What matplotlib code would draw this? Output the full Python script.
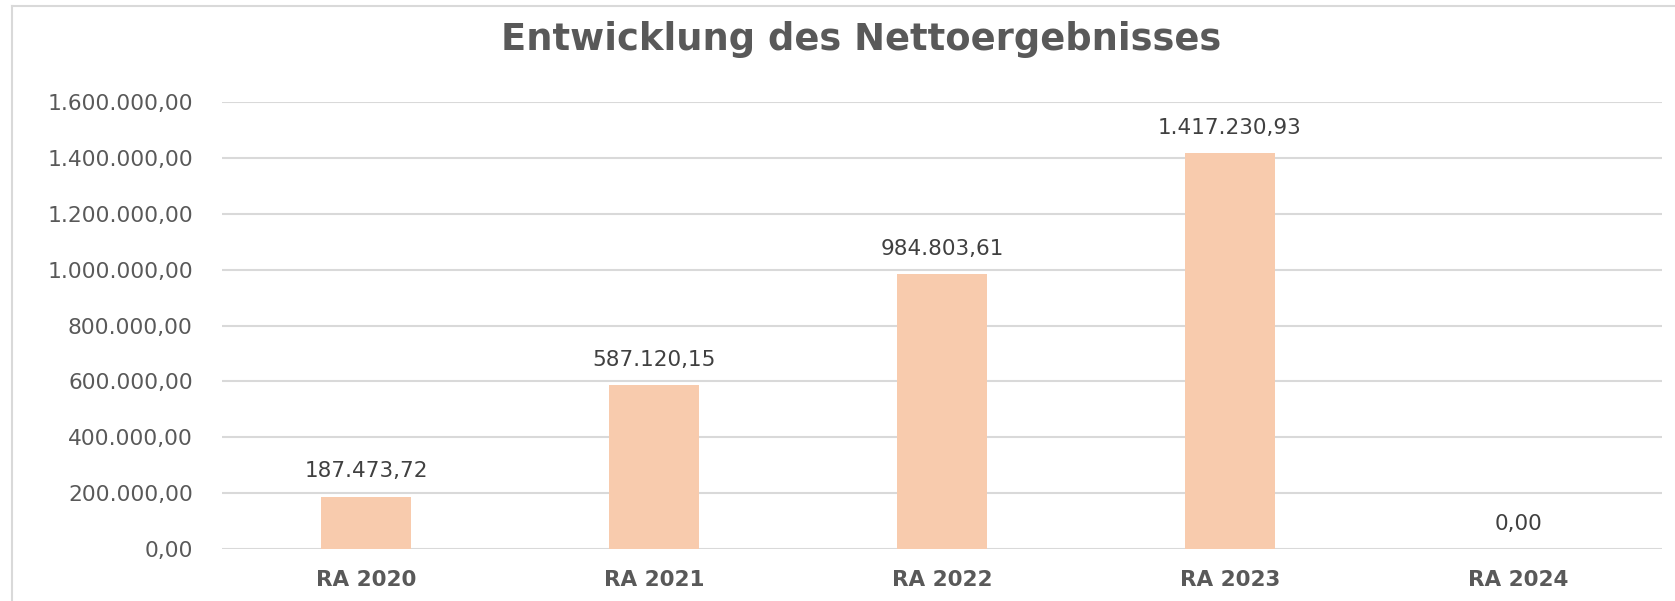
import matplotlib
matplotlib.use("Agg")
import matplotlib.pyplot as plt
from matplotlib.lines import Line2D

categories = ["RA 2020", "RA 2021", "RA 2022", "RA 2023", "RA 2024"]
values = [187473.72, 587120.15, 984803.61, 1417230.93, 0.0]
yticks = [0, 200000, 400000, 600000, 800000, 1000000, 1200000, 1400000, 1600000]


def de_fmt(v):
    # German number format: 1.234.567,89
    s = f"{v:,.2f}"
    return s.replace(",", "X").replace(".", ",").replace("X", ".")


plt.rcParams['font.family'] = ['DejaVu Sans']

fig = plt.figure(figsize=(16.75, 6.01), dpi=100)
ax = fig.add_axes([222 / 1675, 1 - 549 / 601, (1662 - 222) / 1675, (549 - 102) / 601])

x = range(len(categories))
bars = ax.bar(x, values, width=0.31, color="#F8CBAD", zorder=3)

ax.set_xlim(-0.5, len(categories) - 0.5)
ax.set_ylim(0, 1600000)
ax.set_yticks(yticks)
ax.set_yticklabels([de_fmt(t) for t in yticks], fontsize=15.7, color="#595959")
ax.set_xticks(list(x))
ax.set_xticklabels(categories, fontsize=15.5, fontweight="bold", color="#595959")
ax.tick_params(axis="y", length=0, pad=21)
ax.tick_params(axis="x", length=0, pad=15)
ax.grid(axis="y", color="#D9D9D9", linewidth=1.5, zorder=0)
for s in ax.spines.values():
    s.set_visible(False)

for i, v in enumerate(values):
    ax.annotate(de_fmt(v), (i, v), xytext=(0, 11), textcoords="offset points",
                ha="center", va="bottom", fontsize=15.5, color="#404040")

fig.text(0.514, 1 - 40 / 601, "Entwicklung des Nettoergebnisses", ha="center", va="center",
         fontsize=26.6, fontweight="bold", color="#595959")

# chart frame (only top and left edges visible in the crop)
fig.add_artist(Line2D([12 / 1675, 1], [1 - 6 / 601, 1 - 6 / 601], color="#D9D9D9", linewidth=1.5))
fig.add_artist(Line2D([12 / 1675, 12 / 1675], [0, 1 - 6 / 601], color="#D9D9D9", linewidth=1.5))

fig.savefig("out.png", dpi=100, facecolor="white")
